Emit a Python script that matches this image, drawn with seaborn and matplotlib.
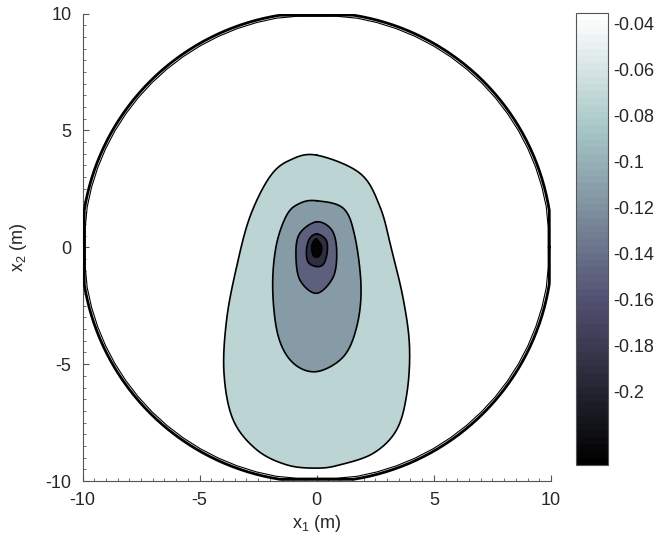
import numpy as np
import matplotlib
matplotlib.use("Agg")
import matplotlib.pyplot as plt
import matplotlib.colors as mcolors
import seaborn as sns
import pandas as pd

# ---------------- data ----------------
# fill value of each nested region (outermost first)
fill_values = [-0.075, -0.114, -0.152, -0.192, -0.228]

# contour boundaries (m)
c1_x = [0.0, 1.85, 2.70, 3.20, 3.70, 3.96, 3.85, 3.41, 2.42, 0.99, 0.0, -1.28,
        -2.57, -3.57, -3.96, -3.85, -3.42, -2.85, -2.00, -1.14]
c1_y = [3.94, 3.16, 1.73, -0.12, -2.25, -4.25, -6.24, -7.81, -8.81, -9.31, -9.45,
        -9.31, -8.66, -7.38, -5.39, -3.11, -0.83, 1.31, 3.02, 3.73]
c2_x = [0.0, 1.14, 1.63, 1.89, 1.71, 1.14, 0.0, -1.00, -1.64, -1.88, -1.74, -1.28, -0.72]
c2_y = [1.99, 1.66, 0.45, -1.69, -3.39, -4.68, -5.32, -4.96, -3.82, -1.83, 0.02, 1.38, 1.88]
c3_x = [0.0, 0.64, 0.85, 0.71, 0.0, -0.72, -0.89, -0.72]
c3_y = [1.09, 0.74, -0.12, -1.26, -1.97, -1.40, -0.26, 0.60]
c4_x = [0.02, 0.40, 0.45, 0.31, 0.03, -0.36, -0.44, -0.30]
c4_y = [0.57, 0.31, -0.19, -0.69, -0.83, -0.65, -0.12, 0.38]
c5_x = [0.0, 0.21, 0.14, -0.02, -0.16, -0.22, -0.12]
c5_y = [0.34, 0.02, -0.33, -0.43, -0.33, 0.02, 0.28]

domain_radius = 10.0
domain_flat = 9.93

cbar_ticks = [-0.04, -0.06, -0.08, -0.10, -0.12, -0.14, -0.16, -0.18, -0.20]
cbar_labels = ["-0.04", "-0.06", "-0.08", "-0.1", "-0.12", "-0.14", "-0.16", "-0.18", "-0.2"]
vmin, vmax = -0.232, -0.0355
axis_ticks = [-10, -5, 0, 5, 10]


def smooth_closed(x, y, n=24):
    P = np.column_stack([x, y]).astype(float)
    N = len(P)
    t = np.linspace(0, 1, n, endpoint=False)[:, None]
    out = []
    for i in range(N):
        p0, p1, p2, p3 = P[i - 1], P[i], P[(i + 1) % N], P[(i + 2) % N]
        out.append(0.5 * (2 * p1 + (-p0 + p2) * t + (2 * p0 - 5 * p1 + 4 * p2 - p3) * t ** 2
                          + (-p0 + 3 * p1 - 3 * p2 + p3) * t ** 3))
    out = np.vstack(out)
    out = np.vstack([out, out[:1]])
    return out[:, 0], out[:, 1]


sns.set_style("ticks")
plt.rcParams["font.family"] = ["Liberation Sans", "DejaVu Sans"]
plt.rcParams["mathtext.default"] = "regular"
plt.rcParams["axes.unicode_minus"] = False

fig = plt.figure(figsize=(6.62, 5.43), dpi=100)
ax = fig.add_axes([82.5 / 662, 1 - 481 / 543, (551 - 82.5) / 662, (481 - 13.5) / 543])
cax = fig.add_axes([575.7 / 662, 1 - 465 / 543, 32 / 662, (465 - 13.3) / 543])

cmap = plt.get_cmap("bone", 64)
norm = mcolors.Normalize(vmin=vmin, vmax=vmax)

contours = [(c1_x, c1_y), (c2_x, c2_y), (c3_x, c3_y), (c4_x, c4_y), (c5_x, c5_y)]
for (cx, cy), val in zip(contours, fill_values):
    sx, sy = smooth_closed(cx, cy)
    ax.fill(sx, sy, color=cmap(norm(val)), zorder=2, linewidth=0)
    df = pd.DataFrame({"x": sx, "y": sy})
    sns.lineplot(data=df, x="x", y="y", sort=False, estimator=None, color="black",
                 linewidth=1.2, ax=ax, zorder=3)

# domain boundary (double line)
th = np.linspace(0, 2 * np.pi, 721)
rx = np.clip(domain_radius * np.cos(th) * 1.005, -domain_flat, domain_flat)
ry = np.clip(domain_radius * np.sin(th) * 1.005, -domain_flat, domain_flat)
sns.lineplot(x=rx, y=ry, sort=False, estimator=None, color="black", linewidth=2.0, ax=ax, zorder=4)
th2 = np.linspace(0, 2 * np.pi, 73)
rx2 = np.clip(9.95 * np.cos(th2), -9.88, 9.88)
ry2 = np.clip(9.95 * np.sin(th2), -9.88, 9.88)
sns.lineplot(x=rx2, y=ry2, sort=False, estimator=None, color="black", linewidth=0.8, ax=ax, zorder=4)

ax.set_xlim(-10, 10)
ax.set_ylim(-10, 10)
ax.set_xticks(axis_ticks)
ax.set_yticks(axis_ticks)
ax.set_xticks(np.arange(-10, 10.01, 0.5), minor=True)
ax.set_yticks(np.arange(-10, 10.01, 0.5), minor=True)
ax.tick_params(which="major", direction="in", length=4, width=0.8, labelsize=13,
               color="#555555", pad=8)
ax.tick_params(which="minor", direction="in", length=2.5, width=0.6, color="#555555")
for s in ["top", "right"]:
    ax.spines[s].set_visible(False)
for s in ["left", "bottom"]:
    ax.spines[s].set_linewidth(0.8)
    ax.spines[s].set_color("#555555")
ax.set_xlabel("x$_1$ (m)", fontsize=13, labelpad=3)
ax.set_ylabel("x$_2$ (m)", fontsize=13, labelpad=12)

sm = matplotlib.cm.ScalarMappable(norm=norm, cmap=cmap)
cb = fig.colorbar(sm, cax=cax)
cb.set_ticks(cbar_ticks)
cb.set_ticklabels(cbar_labels)
cb.outline.set_linewidth(0.8)
cb.outline.set_edgecolor("#555555")
cax.tick_params(direction="in", length=4, width=0.6, labelsize=13, color="#555555",
                left=True, right=True, pad=4)

fig.savefig("out.png", dpi=100)
